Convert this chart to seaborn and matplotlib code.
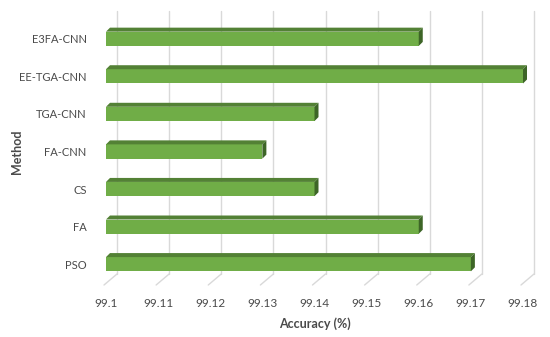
import matplotlib
matplotlib.use("Agg")
import matplotlib.pyplot as plt
import matplotlib.transforms as mtransforms
from matplotlib.patches import Polygon
from matplotlib.lines import Line2D
import pandas as pd
import seaborn as sns

# data
methods = ["E3FA-CNN", "EE-TGA-CNN", "TGA-CNN", "FA-CNN", "CS", "FA", "PSO"]
accuracy = [99.16, 99.18, 99.14, 99.13, 99.14, 99.16, 99.17]
xticks = [99.1, 99.11, 99.12, 99.13, 99.14, 99.15, 99.16, 99.17, 99.18]
xtick_labels = ["99.1", "99.11", "99.12", "99.13", "99.14", "99.15", "99.16", "99.17", "99.18"]

df = pd.DataFrame({"Method": methods, "Accuracy": accuracy})

sns.set_style("white")
plt.rcParams["font.family"] = ["Lato", "DejaVu Sans"]

front = "#70ad47"
top_col = "#538135"
side_col = "#3d6527"
grid_col = "#d9d9d9"
txt = "#4a4a4a"

fig = plt.figure(figsize=(5.5, 3.37), dpi=100)
ax = fig.add_axes([106 / 550, 54 / 337, 417 / 550, 263 / 337])

sns.barplot(data=df, x="Accuracy", y="Method", orient="h", color=front,
            saturation=1, width=0.38, linewidth=0, ax=ax, zorder=3)
ax.set_xlim(99.1, 99.18)
ax.set_ylim(6.5, -0.5)

for s in ax.spines.values():
    s.set_visible(False)
ax.set_xticks(xticks)
ax.set_xticklabels(xtick_labels)
ax.tick_params(axis="both", length=0, colors=txt, labelsize=8.5)
ax.tick_params(axis="x", pad=11)
ax.tick_params(axis="y", pad=14, labelsize=8)
ax.set_xlabel("Accuracy (%)", fontsize=9, fontweight="bold", color=txt, labelpad=6)
ax.set_ylabel("Method", fontsize=9, fontweight="bold", color=txt)
ax.yaxis.set_label_coords(-0.198, 0.5)

# back wall gridlines (3D look) and floor diagonals
gdx, gdy = 11, 9
back = mtransforms.offset_copy(ax.get_xaxis_transform(), fig=fig, x=gdx, y=gdy, units="dots")
ident = mtransforms.IdentityTransform()
for xv in xticks:
    ax.add_line(Line2D([xv, xv], [0, 1], transform=back, color=grid_col, lw=1,
                       clip_on=False, zorder=1))
    px, py = ax.transData.transform((xv, 6.5))
    fig.add_artist(Line2D([px - 2, px + gdx], [py - 2, py + gdy], transform=ident,
                          color=grid_col, lw=1, zorder=1))

# bar top and side faces
d = 4
x_min = ax.get_xlim()[0]
for p in ax.patches:
    x0 = max(p.get_x(), x_min)
    x1 = p.get_x() + p.get_width()
    y0 = p.get_y()
    y1 = p.get_y() + p.get_height()
    (ax0, ay_bot), (ax1, ay_top) = ax.transData.transform([(x0, y1), (x1, y0)])
    topface = [(ax0, ay_top), (ax1, ay_top), (ax1 + d, ay_top + d), (ax0 + d, ay_top + d)]
    sideface = [(ax1, ay_bot), (ax1, ay_top), (ax1 + d, ay_top + d), (ax1 + d, ay_bot + d)]
    fig.add_artist(Polygon(topface, closed=True, transform=ident, facecolor=top_col,
                           edgecolor="none", zorder=4))
    fig.add_artist(Polygon(sideface, closed=True, transform=ident, facecolor=side_col,
                           edgecolor="none", zorder=4))

fig.savefig("out.png", dpi=100)
